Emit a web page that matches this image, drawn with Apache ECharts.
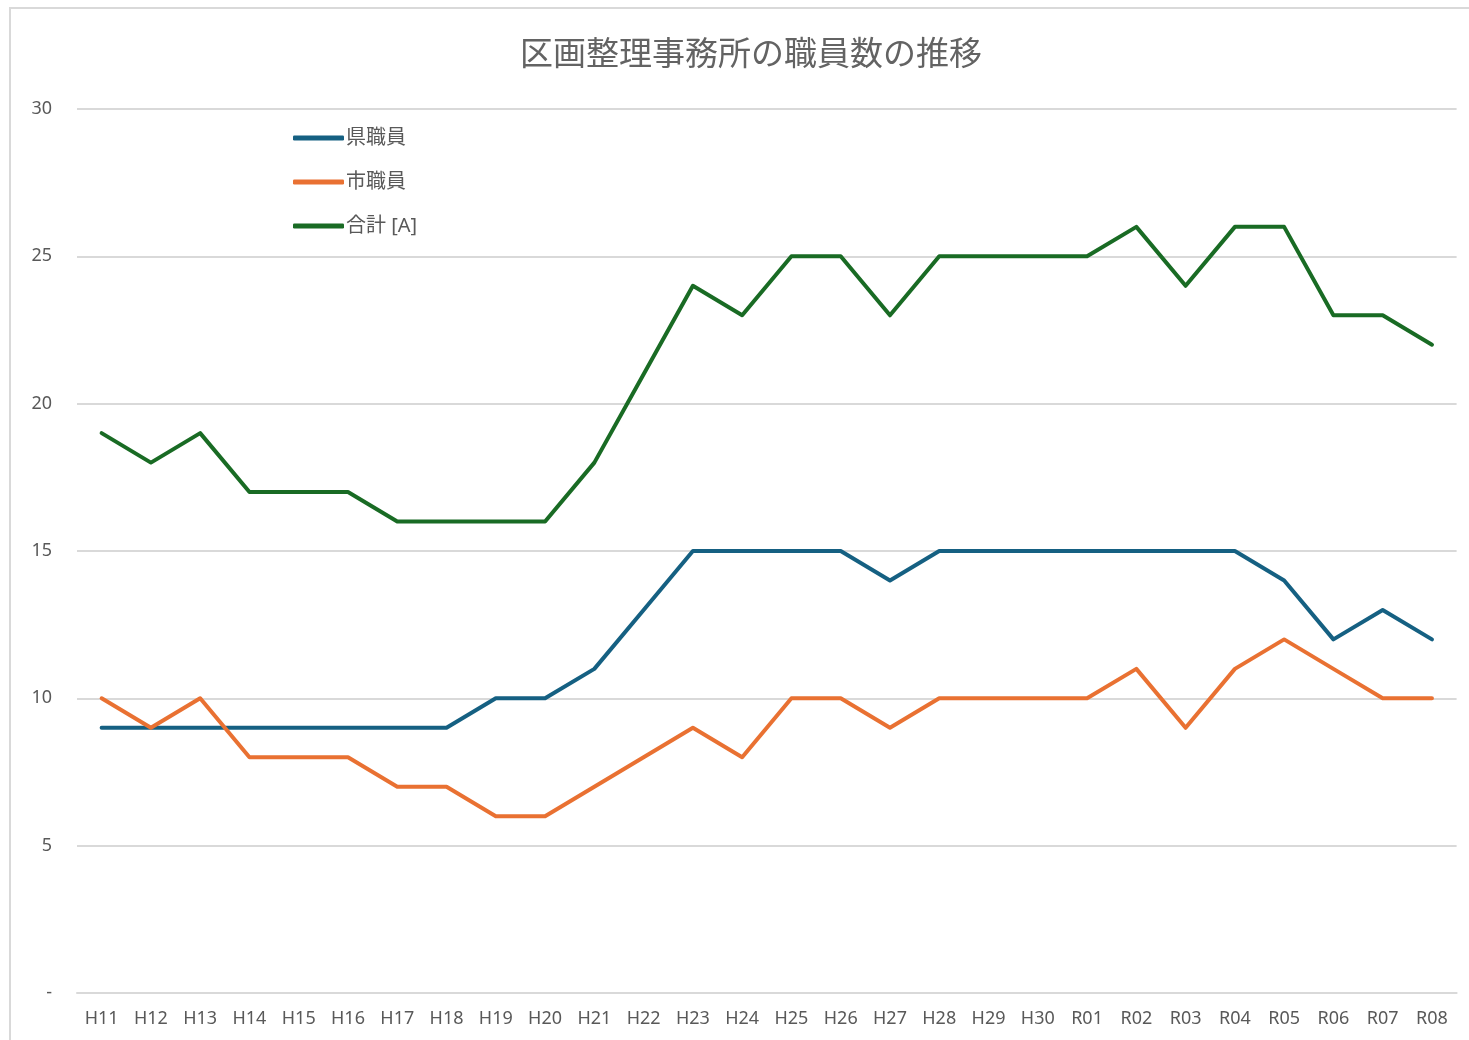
<!DOCTYPE html>
<html><head><meta charset="utf-8">
<script src="https://cdn.jsdelivr.net/npm/echarts@6/dist/echarts.min.js"></script>
<style>html,body{margin:0;padding:0;background:#fff;}#c{width:1469px;height:1040px;}</style>
</head><body><div id="c"></div>
<script>
const categories = ['H11','H12','H13','H14','H15','H16','H17','H18','H19','H20','H21','H22','H23','H24','H25','H26','H27','H28','H29','H30','R01','R02','R03','R04','R05','R06','R07','R08'];
const prefStaff = [9,9,9,9,9,9,9,9,10,10,11,13,15,15,15,15,14,15,15,15,15,15,15,15,14,12,13,12];
const cityStaff = [10,9,10,8,8,8,7,7,6,6,7,8,9,8,10,10,9,10,10,10,10,11,9,11,12,11,10,10];
const totalStaff = [19,18,19,17,17,17,16,16,16,16,18,21,24,23,25,25,23,25,25,25,25,26,24,26,26,23,23,22];
const yTicks = [0,5,10,15,20,25,30];

const font = '"Noto Sans", "Noto Sans CJK JP", sans-serif';
const chart = echarts.init(document.getElementById('c'));
function mk(name, data, color){
  return {name, type:'line', data, symbol:'none', smooth:false,
    lineStyle:{color, width:4, join:'round', cap:'round'}, itemStyle:{color}};
}
chart.setOption({
  animation:false,
  backgroundColor:'#fff',
  textStyle:{fontFamily:font},
  graphic:[{type:'rect', shape:{x:10, y:8, width:1500, height:1100}, style:{fill:'none', stroke:'#d9d9d9', lineWidth:2}, silent:true}],
  title:{text:'区画整理事務所の職員数の推移', left:746, top:31, textAlign:'center',
    textStyle:{fontSize:33, fontWeight:'normal', color:'#636363', fontFamily:'"Noto Sans CJK JP", sans-serif'}},
  legend:{orient:'vertical', left:288, top:123, itemGap:24, itemWidth:51, itemHeight:5, icon:'roundRect',
    textStyle:{fontSize:20, color:'#595959', padding:[0,0,0,-3], fontFamily:font},
    data:['県職員','市職員','合計 [A]']},
  grid:{left:77, right:12.4, top:109, bottom:47, containLabel:false},
  xAxis:{type:'category', data:categories, boundaryGap:true,
    axisLine:{show:true, lineStyle:{color:'#d9d9d9', width:2}}, axisTick:{show:false},
    axisLabel:{fontSize:18, color:'#595959', margin:17, interval:0}},
  yAxis:{type:'value', min:yTicks[0], max:yTicks[yTicks.length-1], interval:5,
    axisLine:{show:false}, axisTick:{show:false},
    splitLine:{lineStyle:{color:'#d9d9d9', width:2}},
    axisLabel:{fontSize:18, color:'#595959', margin:25, formatter:v=>v===0?'-':String(v)}},
  series:[mk('県職員', prefStaff, '#156082'), mk('市職員', cityStaff, '#E97132'), mk('合計 [A]', totalStaff, '#196B24')]
});
</script></body></html>
